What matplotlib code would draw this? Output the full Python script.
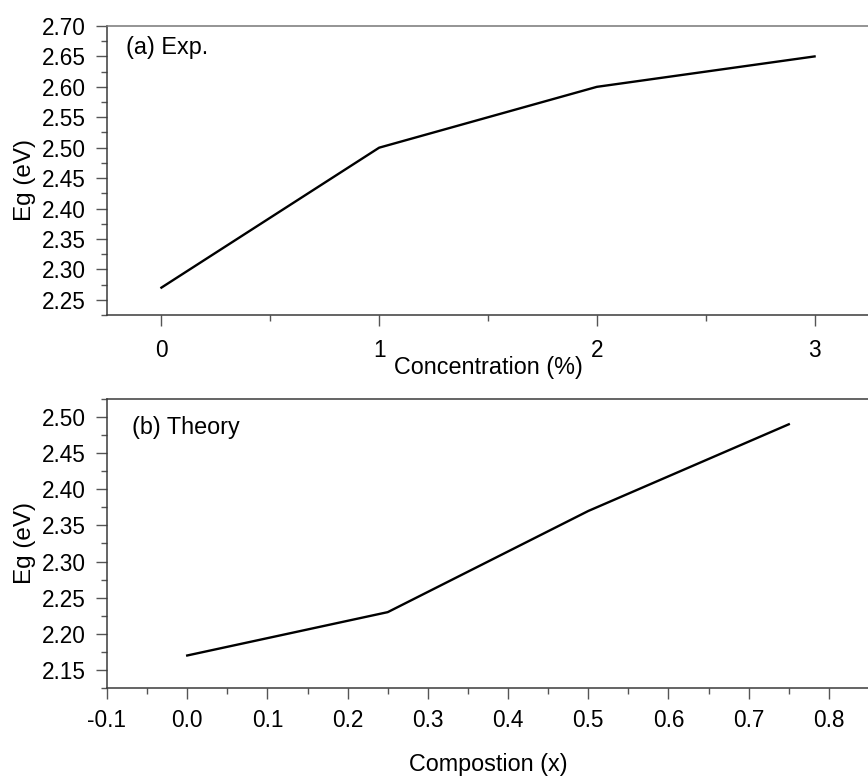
import matplotlib
matplotlib.use("Agg")
import matplotlib.pyplot as plt
from matplotlib.ticker import MultipleLocator, FormatStrFormatter

# data
conc = [0, 1, 2, 3]
eg_exp = [2.27, 2.50, 2.60, 2.65]

comp = [0.0, 0.25, 0.50, 0.75]
eg_theory = [2.17, 2.23, 2.37, 2.49]

plt.rcParams['font.family'] = ['Liberation Sans', 'DejaVu Sans']

fig = plt.figure(figsize=(8.68, 7.78), dpi=100)
W, H = 868.0, 778.0
left, width = 107 / W, 762 / W
ax1 = fig.add_axes([left, 1 - 315 / H, width, 289 / H])
ax2 = fig.add_axes([left, 1 - 688 / H, width, 289 / H])

spine_col = '#3a3a3a'
tick_col = '#555555'

for ax in (ax1, ax2):
    ax.spines['right'].set_visible(False)
    for s in ('left', 'bottom', 'top'):
        ax.spines[s].set_color(spine_col)
        ax.spines[s].set_linewidth(1.1)
    ax.tick_params(which='major', direction='out', length=8, width=1.0,
                   color=tick_col, labelsize=16.3, top=False, right=False)
    ax.tick_params(which='minor', direction='out', length=4, width=1.0,
                   color=tick_col, top=False, right=False)
    ax.tick_params(axis='y', which='major', pad=7)
ax1.spines['top'].set_color('#777777')

# (a) experiment
ax1.plot(conc, eg_exp, color='black', linewidth=1.7)
ax1.set_xlim(-0.25, 3.25)
ax1.set_ylim(2.225, 2.70)
ax1.xaxis.set_major_locator(MultipleLocator(1))
ax1.xaxis.set_minor_locator(MultipleLocator(0.5))
ax1.yaxis.set_major_locator(MultipleLocator(0.05))
ax1.yaxis.set_minor_locator(MultipleLocator(0.025))
ax1.yaxis.set_major_formatter(FormatStrFormatter('%.2f'))
ax1.tick_params(axis='x', which='major', pad=9)
ax1.set_xlabel('Concentration (%)', fontsize=16.8)
ax1.xaxis.set_label_coords(0.5, -0.183)
ax1.xaxis.label.set_va('center')
ax1.set_ylabel('Eg (eV)', fontsize=17.5)
ax1.yaxis.set_label_coords(-0.093, 0.467)
ax1.text(0.025, 0.925, '(a) Exp.', transform=ax1.transAxes,
         fontsize=16.8, ha='left', va='center')

# (b) theory
ax2.plot(comp, eg_theory, color='black', linewidth=1.7)
ax2.set_xlim(-0.1, 0.85)
ax2.set_ylim(2.125, 2.525)
ax2.xaxis.set_major_locator(MultipleLocator(0.1))
ax2.xaxis.set_minor_locator(MultipleLocator(0.05))
ax2.xaxis.set_major_formatter(FormatStrFormatter('%.1f'))
ax2.yaxis.set_major_locator(MultipleLocator(0.05))
ax2.yaxis.set_minor_locator(MultipleLocator(0.025))
ax2.yaxis.set_major_formatter(FormatStrFormatter('%.2f'))
ax2.tick_params(axis='x', which='major', pad=7)
ax2.set_xlabel('Compostion (x)', fontsize=16.8)
ax2.xaxis.set_label_coords(0.5, -0.266)
ax2.xaxis.label.set_va('center')
ax2.set_ylabel('Eg (eV)', fontsize=17.5)
ax2.yaxis.set_label_coords(-0.093, 0.5)
ax2.text(0.033, 0.90, '(b) Theory', transform=ax2.transAxes,
         fontsize=16.8, ha='left', va='center')

fig.savefig('out.png', dpi=100, facecolor='white')
